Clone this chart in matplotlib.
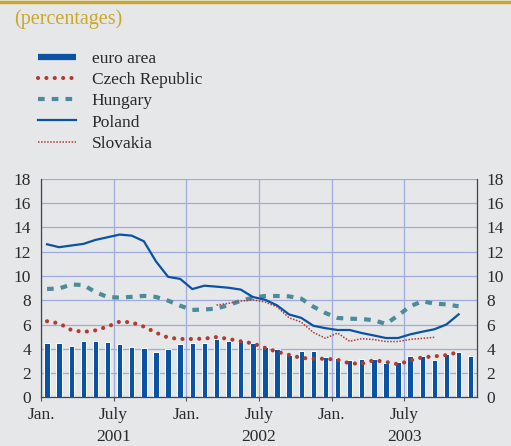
import numpy as np
import matplotlib
matplotlib.use("Agg")
import matplotlib.pyplot as plt
from matplotlib.lines import Line2D

# monthly values, Jan 2001 .. Dec 2003
euro_area = [4.44, 4.44, 4.27, 4.68, 4.68, 4.55, 4.36, 4.16, 4.03, 3.73, 3.97, 4.36,
             4.49, 4.44, 4.85, 4.68, 4.74, 4.44, 4.19, 4.00, 3.51, 3.78, 3.78, 3.34,
             3.21, 3.04, 3.18, 3.18, 2.85, 2.88, 3.37, 3.42, 3.04, 3.59, 3.70, 3.42]
czech = [6.27, 6.10, 5.55, 5.39, 5.52, 5.83, 6.24, 6.18, 5.83, 5.33, 4.92, 4.81,
         4.81, 4.84, 4.97, 4.81, 4.62, 4.45, 4.08, 3.76, 3.50, 3.25, 3.19, 3.18,
         3.10, 2.80, 2.78, 3.06, 2.92, 2.73, 3.03, 3.30, 3.38, 3.48, 3.73]
hungary = [8.93, 8.97, 9.30, 9.25, 8.68, 8.26, 8.22, 8.28, 8.36, 8.27, 7.97, 7.55,
           7.20, 7.24, 7.31, 7.61, 7.95, 8.22, 8.35, 8.35, 8.32, 8.13, 7.47, 6.95,
           6.54, 6.48, 6.46, 6.35, 6.05, 6.75, 7.50, 7.92, 7.72, 7.66, 7.50]
poland = [12.61, 12.37, 12.51, 12.64, 12.97, 13.19, 13.41, 13.32, 12.86, 11.20, 9.93, 9.76,
          8.92, 9.20, 9.12, 9.03, 8.88, 8.27, 8.05, 7.58, 6.83, 6.55, 5.90, 5.70,
          5.55, 5.55, 5.30, 5.10, 4.89, 4.89, 5.19, 5.41, 5.61, 6.01, 6.84]
slovakia_start = 14  # March 2002
slovakia = [7.60, 7.75, 7.93, 8.03, 7.86, 7.45, 6.55, 6.20, 5.35, 4.87,
            5.30, 4.62, 4.84, 4.76, 4.60, 4.60, 4.78, 4.86, 4.95]

tick_pos = [0, 6, 12, 18, 24, 30]
tick_labels = ["Jan.", "July\n2001", "Jan.", "July\n2002", "Jan.", "July\n2003"]

bg = "#e6e7e9"
blue = "#0a52a3"
red = "#b23a32"
teal = "#4b8b9c"
grid_c = "#9fabdc"
gold = "#c9a82c"
txt = "#2a2a2a"

plt.rcParams["font.family"] = ["Liberation Serif", "DejaVu Serif"]

fig = plt.figure(figsize=(5.11, 4.46), dpi=100, facecolor=bg)
ax = fig.add_axes([0.0802, 0.109, 0.8528, 0.49])
ax.set_facecolor(bg)

x = np.arange(len(euro_area)) + 0.5
ax.bar(x, euro_area, width=0.45, color=blue, edgecolor="white", linewidth=0.7, zorder=3)

xh = np.arange(len(hungary)) + 0.5
ax.plot(xh, hungary, color=teal, lw=3.0, linestyle=(0, (1.6, 1.7)), dash_capstyle="butt", zorder=4)
xc = np.arange(len(czech)) + 0.5
ax.plot(xc, czech, color=red, lw=3.0, linestyle=(0, (0.01, 2.0)), dash_capstyle="round", zorder=5)
xs = np.arange(len(slovakia)) + slovakia_start + 0.5
ax.plot(xs, slovakia, color=red, lw=1.1, linestyle=(0, (1, 1)), zorder=5)
xp = np.arange(len(poland)) + 0.5
ax.plot(xp, poland, color=blue, lw=1.6, zorder=6)

ax.set_xlim(0, 36)
ax.set_ylim(0, 18)
ax.set_yticks(range(0, 19, 2))
ax.set_xticks(tick_pos)
ax.set_xticklabels(tick_labels, fontsize=12.5, color=txt, linespacing=1.45)
ax.grid(True, color=grid_c, lw=0.9, zorder=0)
ax.set_axisbelow(True)

ax.tick_params(axis="y", which="both", length=0, pad=7, labelsize=12.5, labelcolor=txt,
               labelleft=True, labelright=True)
ax.tick_params(axis="x", length=3, direction="out", color="#555555", pad=4)
ax.spines["top"].set_visible(False)
for s in ["left", "right", "bottom"]:
    ax.spines[s].set_color("#444444")
    ax.spines[s].set_linewidth(0.9)

# header
fig.add_artist(Line2D([0, 1], [0.996, 0.996], color=gold, lw=2.5, transform=fig.transFigure))
fig.text(0.027, 0.958, "(percentages)", fontsize=14.5, color=gold, va="center", ha="left")

handles = [
    Line2D([], [], color=blue, lw=4.5, solid_capstyle="butt"),
    Line2D([], [], color=red, lw=3.0, linestyle=(0, (0.01, 2.0)), dash_capstyle="round"),
    Line2D([], [], color=teal, lw=3.0, linestyle=(0, (1.6, 1.7))),
    Line2D([], [], color=blue, lw=1.6),
    Line2D([], [], color=red, lw=1.1, linestyle=(0, (1, 1))),
]
names = ["euro area", "Czech Republic", "Hungary", "Poland", "Slovakia"]
fig.legend(handles, names, loc="upper left", bbox_to_anchor=(0.074, 0.886),
           frameon=False, fontsize=12.5, handlelength=2.2, handletextpad=0.9,
           labelspacing=0.29, borderpad=0, borderaxespad=0, labelcolor=txt)

fig.savefig("out.png", dpi=100, facecolor=bg)
